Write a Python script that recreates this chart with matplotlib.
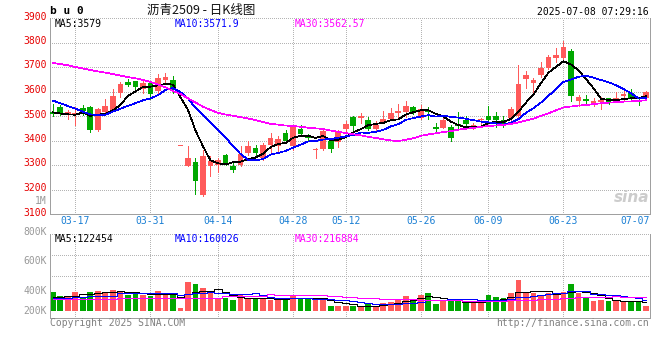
import matplotlib
matplotlib.use("Agg")
import matplotlib.pyplot as plt
from matplotlib import transforms
import numpy as np

W, H = 660, 360

# trading days shown (80 bars, 03-12 .. 07-08)
dates = ["03-12", "03-13", "03-14", "03-17", "03-18", "03-19", "03-20", "03-21", "03-24", "03-25",
         "03-26", "03-27", "03-28", "03-31", "04-01", "04-02", "04-03", "04-07", "04-08", "04-09",
         "04-10", "04-11", "04-14", "04-15", "04-16", "04-17", "04-18", "04-21", "04-22", "04-23",
         "04-24", "04-25", "04-28", "04-29", "04-30", "05-06", "05-07", "05-08", "05-09", "05-12",
         "05-13", "05-14", "05-15", "05-16", "05-19", "05-20", "05-21", "05-22", "05-23", "05-26",
         "05-27", "05-28", "05-29", "05-30", "06-03", "06-04", "06-05", "06-06", "06-09", "06-10",
         "06-11", "06-12", "06-13", "06-16", "06-17", "06-18", "06-19", "06-20", "06-23", "06-24",
         "06-25", "06-26", "06-27", "06-30", "07-01", "07-02", "07-03", "07-04", "07-07", "07-08"]

opens = [3515, 3535, 3505, 3510, 3533, 3538, 3444, 3518, 3525, 3593,
         3640, 3641, 3609, 3633, 3604, 3647, 3647, 3378, 3297, 3313,
         3179, 3295, 3301, 3342, 3295, 3299, 3349, 3369, 3328, 3383,
         3376, 3430, 3376, 3448, 3412, 3360, 3366, 3396, 3392, 3448,
         3495, 3492, 3484, 3448, 3473, 3487, 3514, 3518, 3536, 3491,
         3520, 3457, 3453, 3457, 3467, 3482, 3454, 3482, 3498, 3501,
         3484, 3491, 3501, 3650, 3636, 3667, 3697, 3738, 3735, 3765,
         3563, 3568, 3552, 3559, 3572, 3566, 3582, 3593, 3574, 3572]
highs = [3550, 3545, 3525, 3536, 3545, 3542, 3532, 3570, 3609, 3640,
         3650, 3644, 3644, 3643, 3670, 3677, 3665, 3378, 3379, 3328,
         3362, 3335, 3328, 3346, 3315, 3376, 3399, 3383, 3389, 3430,
         3419, 3444, 3457, 3464, 3426, 3369, 3444, 3403, 3444, 3478,
         3500, 3511, 3494, 3478, 3521, 3534, 3549, 3562, 3541, 3545,
         3536, 3470, 3500, 3464, 3518, 3498, 3471, 3491, 3541, 3518,
         3501, 3536, 3708, 3685, 3654, 3719, 3749, 3776, 3805, 3773,
         3586, 3586, 3572, 3579, 3573, 3599, 3602, 3609, 3579, 3602]
lows = [3500, 3505, 3487, 3464, 3505, 3433, 3440, 3515, 3520, 3576,
        3622, 3609, 3593, 3570, 3593, 3633, 3593, 3378, 3297, 3183,
        3173, 3254, 3272, 3298, 3270, 3296, 3342, 3342, 3322, 3349,
        3352, 3392, 3362, 3417, 3399, 3328, 3362, 3352, 3373, 3430,
        3437, 3471, 3444, 3444, 3471, 3484, 3495, 3495, 3509, 3487,
        3487, 3440, 3450, 3399, 3444, 3457, 3448, 3464, 3478, 3457,
        3457, 3478, 3491, 3613, 3593, 3660, 3690, 3721, 3719, 3563,
        3539, 3545, 3541, 3529, 3549, 3559, 3566, 3566, 3545, 3570]
closes = [3510, 3510, 3518, 3513, 3521, 3442, 3530, 3541, 3582, 3629,
          3627, 3620, 3633, 3590, 3654, 3658, 3606, 3378, 3328, 3234,
          3335, 3318, 3322, 3302, 3279, 3345, 3376, 3349, 3383, 3412,
          3407, 3399, 3454, 3427, 3409, 3365, 3437, 3365, 3437, 3467,
          3461, 3501, 3446, 3464, 3487, 3514, 3521, 3541, 3514, 3528,
          3516, 3446, 3484, 3412, 3458, 3467, 3464, 3485, 3482, 3482,
          3464, 3529, 3631, 3667, 3647, 3697, 3742, 3749, 3782, 3580,
          3579, 3563, 3562, 3566, 3559, 3572, 3589, 3575, 3571, 3599]

# volume, thousands of lots
volumes = [290, 230, 215, 290, 215, 290, 305, 290, 320, 290,
           240, 250, 240, 230, 305, 250, 240, 50, 440, 410,
           350, 275, 200, 200, 170, 240, 180, 180, 175, 165,
           175, 200, 240, 200, 180, 180, 180, 80, 80, 80,
           80, 65, 105, 80, 125, 140, 180, 225, 180, 240,
           275, 105, 155, 155, 155, 130, 115, 115, 240, 210,
           200, 275, 465, 265, 275, 240, 275, 240, 285, 410,
           265, 210, 155, 170, 155, 165, 140, 130, 130, 80]

# moving average values before the window has enough bars
ma5_head = [3515, 3510, 3507, 3505]
ma10_head = [3563, 3552, 3541, 3530, 3518, 3507, 3503, 3505, 3518]
ma30_head = [3717, 3712, 3707, 3700, 3694, 3688, 3682, 3677, 3671, 3665,
             3659, 3654, 3647, 3639, 3629, 3617, 3602, 3590, 3572, 3555,
             3538, 3525, 3513, 3506, 3501, 3495, 3490, 3483, 3475]
vma5_head = [215, 215, 220, 225]
vma10_head = [190, 190, 195, 205, 215, 225, 230, 230, 230]
vma30_head = [175, 175, 175, 175, 175, 175, 175, 175, 175, 200,
              200, 200, 200, 200, 200, 200, 200, 200, 200, 200,
              200, 200, 200, 220, 220, 220, 220, 220, 220]

tick_labels = ["03-17", "03-31", "04-14", "04-28", "05-12", "05-26", "06-09", "06-23", "07-07"]
price_ticks = [3100, 3200, 3300, 3400, 3500, 3600, 3700, 3800, 3900]
vol_labels = ["800K", "600K", "400K", "200K"]

UP = "#ff5a5a"
DOWN = "#00a800"
GRID = "#b4b4b4"
FRAME = "#a0a0a0"
MONO = "DejaVu Sans Mono"
DOT = (0, (1, 2))
PX = 0.72  # one pixel in points
LINE = 0.5  # moving average line width


def fx(px):
    return px / W


def fy(py):
    return 1 - py / H


def moving_average(vals, n, head):
    vals = np.asarray(vals, float)
    out = np.empty(len(vals))
    out[: n - 1] = head
    for i in range(n - 1, len(vals)):
        out[i] = vals[i - n + 1: i + 1].mean()
    return out


fig = plt.figure(figsize=(W / 100, H / 100), dpi=100)
ax = fig.add_axes([fx(50), fy(214), 600 / W, (214 - 18) / H])
axv = fig.add_axes([fx(50), fy(318), 600 / W, (318 - 234) / H])

n = len(closes)
x = np.arange(n)
o = np.array(opens, float)
c = np.array(closes, float)
colors = np.where(c >= o, UP, DOWN)
tick_pos = [dates.index(t) for t in tick_labels]

ax.set_ylim(price_ticks[0], price_ticks[-1])
axv.set_ylim(-105, 1155)
for a in (ax, axv):
    a.set_xlim(-0.37, n - 0.48)
    a.set_xticks([])
    a.set_yticks([])
    for s in ("left", "right", "bottom"):
        a.spines[s].set_color(FRAME)
        a.spines[s].set_linewidth(PX)
    a.spines["top"].set_visible(False)
    a.plot([0, 1], [1, 1], transform=a.transAxes, color=GRID, ls=DOT, lw=PX,
           clip_on=False, antialiased=False)
    for p in tick_pos[:-1]:
        a.axvline(p, color=GRID, ls=DOT, lw=PX, antialiased=False, zorder=0)

for p in price_ticks[1:-1]:
    ax.axhline(p, color=GRID, ls=DOT, lw=PX, antialiased=False, zorder=0)
lo, hi = axv.get_ylim()
for k in (2, 3):
    axv.axhline(lo + (hi - lo) * k / 4, color=GRID, ls=DOT, lw=PX, antialiased=False, zorder=0)

# candles
ax.vlines(x, lows, highs, colors=colors, lw=PX, antialiased=False, zorder=2)
ax.bar(x, np.maximum(np.abs(c - o), 4), bottom=np.minimum(o, c), width=0.76,
       color=colors, linewidth=0, antialiased=False, zorder=3)

ax.plot(x, moving_average(closes, 5, ma5_head), color="black", lw=LINE, antialiased=False, zorder=4)
ax.plot(x, moving_average(closes, 10, ma10_head), color="#0000ff", lw=LINE, antialiased=False, zorder=4)
ax.plot(x, moving_average(closes, 30, ma30_head), color="#ff00ff", lw=LINE, antialiased=False, zorder=4)

# volume
axv.bar(x, volumes, width=0.76, color=colors, linewidth=0, antialiased=False, zorder=2)
axv.plot(x, moving_average(volumes, 5, vma5_head), color="black", lw=LINE,
         drawstyle="steps-mid", antialiased=False, zorder=4)
axv.plot(x, moving_average(volumes, 10, vma10_head), color="#0000ff", lw=LINE,
         drawstyle="steps-mid", antialiased=False, zorder=4)
axv.plot(x, moving_average(volumes, 30, vma30_head), color="#ff00ff", lw=LINE,
         drawstyle="steps-mid", antialiased=False, zorder=4)

# price axis labels
ytrans = transforms.offset_copy(
    transforms.blended_transform_factory(fig.transFigure, ax.transData), fig=fig, y=1.5, units="dots")
for p in price_ticks:
    fig.text(fx(47), p, str(p), transform=ytrans, ha="right", va="center",
             color="#e60000", fontsize=7, family=MONO)
fig.text(fx(47), fy(201), "1M", ha="right", va="center", color="#999999", fontsize=7, family=MONO)
for lbl, py in zip(vol_labels, [232, 261, 291, 311]):
    fig.text(fx(47), fy(py), lbl, ha="right", va="center", color="#999999", fontsize=7, family=MONO)

# date labels
xtrans = transforms.blended_transform_factory(ax.transData, fig.transFigure)
for lbl, p in zip(tick_labels[:-1], tick_pos[:-1]):
    fig.text(p, fy(221.5), lbl, transform=xtrans, ha="center", va="center",
             color="#1a7fd4", fontsize=7, family=MONO)
fig.text(fx(650), fy(221.5), tick_labels[-1], ha="right", va="center",
         color="#1a7fd4", fontsize=7, family=MONO)

# header
fig.text(fx(50), fy(11), "b u 0", ha="left", va="center", fontsize=8, family=MONO,
         fontweight="bold", color="black")
fig.text(fx(201), fy(10), "沥青2509 - 日K线图", ha="center", va="center", fontsize=9,
         family=["Noto Sans CJK SC", "DejaVu Sans"], color="#111111")
fig.text(fx(649), fy(12), "2025-07-08 07:29:16", ha="right", va="center", fontsize=7,
         family=MONO, color="black")

# legends
for txt, px, col in [("MA5:3579", 55, "black"), ("MA10:3571.9", 175, "#0000ff"),
                     ("MA30:3562.57", 295, "#ff00ff")]:
    fig.text(fx(px), fy(24), txt, ha="left", va="center", fontsize=7, family=MONO, color=col)
for txt, px, col in [("MA5:122454", 55, "black"), ("MA10:160026", 175, "#0000ff"),
                     ("MA30:216884", 295, "#ff00ff")]:
    fig.text(fx(px), fy(238.5), txt, ha="left", va="center", fontsize=7, family=MONO, color=col)

# watermark and footer
fig.text(fx(649), fy(205), "sina", ha="right", va="bottom", fontsize=11, style="italic",
         fontweight="bold", color="#cccccc", family="DejaVu Sans")
fig.text(fx(50), fy(323), "Copyright 2025 SINA.COM", ha="left", va="center", fontsize=7,
         family=MONO, color="#808080")
fig.text(fx(649), fy(323), "http://finance.sina.com.cn", ha="right", va="center", fontsize=7,
         family=MONO, color="#808080")

fig.savefig("out.png", dpi=100)
